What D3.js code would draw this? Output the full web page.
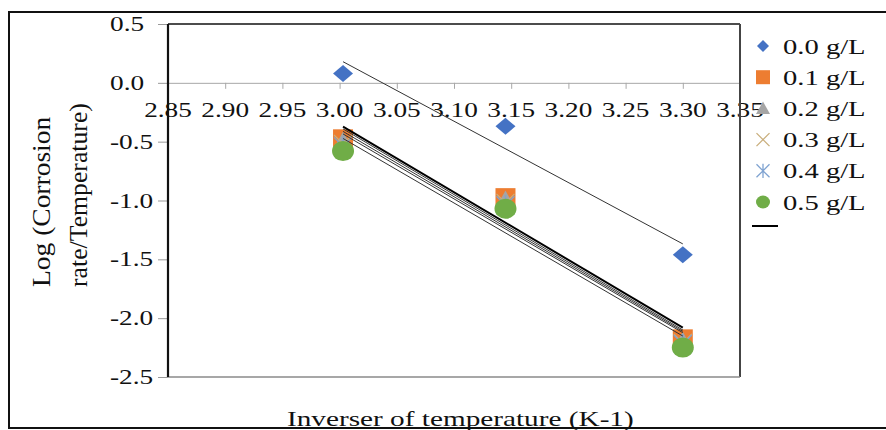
<!DOCTYPE html>
<html>
<head>
<meta charset="utf-8">
<script src="https://cdn.jsdelivr.net/npm/d3@7"></script>
<style>
  body { margin: 0; background: #fff; }
  svg { display: block; }
  text { font-family: "Liberation Serif", "Times New Roman", serif; fill: #111; }
</style>
</head>
<body>
<svg id="chart" width="886" height="430"></svg>
<script>
// Inverse temperature (1000/T, K^-1) for 333 K, 318 K and 303 K
const inverseTemp = [3.003, 3.145, 3.300];

// Log(corrosion rate / temperature) per inhibitor concentration
const seriesNames = ["0.0 g/L", "0.1 g/L", "0.2 g/L", "0.3 g/L", "0.4 g/L", "0.5 g/L"];
const logRate00 = [0.08, -0.37, -1.46];
const logRate01 = [-0.48, -0.98, -2.18];
const logRate02 = [-0.50, -1.00, -2.20];
const logRate03 = [-0.52, -1.02, -2.21];
const logRate04 = [-0.54, -1.04, -2.22];
const logRate05 = [-0.58, -1.07, -2.25];
const seriesValues = [logRate00, logRate01, logRate02, logRate03, logRate04, logRate05];

// Axis ticks
const xTicks = [2.85, 2.90, 2.95, 3.00, 3.05, 3.10, 3.15, 3.20, 3.25, 3.30, 3.35];
const yTicks = [0.5, 0.0, -0.5, -1.0, -1.5, -2.0, -2.5];

const markerShapes = ["diamond", "square", "triangle", "cross", "asterisk", "circle"];
const markerColors = ["#4472C4", "#ED7D31", "#A5A5A5", "#C9AE7C", "#7FA3D1", "#70AD47"];

const svg = d3.select("#chart");
const plot = { left: 168, right: 740, top: 24, bottom: 377 };

const x = d3.scaleLinear().domain([2.85, 3.35]).range([plot.left, plot.right]);
const y = d3.scaleLinear().domain([-2.5, 0.5]).range([plot.bottom, plot.top]);

// Number formats using a plain hyphen for negatives
const fmtX = v => d3.format(".2f")(v).replace("\u2212", "-");
const fmtY = v => d3.format(".1f")(v).replace("\u2212", "-");

// Text helper: Times-style glyphs, widened horizontally
function label(parent, px, py, str, size, anchor, sx, rot) {
  return parent.append("text")
    .attr("transform", `translate(${px},${py}) rotate(${rot || 0}) scale(${sx},1)`)
    .attr("text-anchor", anchor)
    .style("font-size", size + "px")
    .text(str);
}

// Marker path builder (half-width w, half-height h)
function markerPath(shape, w, h) {
  const p = d3.path();
  switch (shape) {
    case "diamond":
      p.moveTo(0, -h); p.lineTo(w, 0); p.lineTo(0, h); p.lineTo(-w, 0); p.closePath(); break;
    case "square":
      p.rect(-w, -h, 2 * w, 2 * h); break;
    case "triangle":
      p.moveTo(0, -h); p.lineTo(w, h * 0.8); p.lineTo(-w, h * 0.8); p.closePath(); break;
    case "cross":
      p.moveTo(-w, -h); p.lineTo(w, h); p.moveTo(-w, h); p.lineTo(w, -h); break;
    case "asterisk":
      p.moveTo(-w, -h); p.lineTo(w, h); p.moveTo(-w, h); p.lineTo(w, -h);
      p.moveTo(0, -h * 1.1); p.lineTo(0, h * 1.1); break;
  }
  return p.toString();
}
function drawMarker(parent, shape, color, cx, cy, w, h) {
  if (shape === "circle") {
    return parent.append("ellipse").attr("cx", cx).attr("cy", cy).attr("rx", w).attr("ry", h).attr("fill", color);
  }
  const line = shape === "cross" || shape === "asterisk";
  return parent.append("path")
    .attr("transform", `translate(${cx},${cy})`)
    .attr("d", markerPath(shape, w, h))
    .attr("fill", line ? "none" : color)
    .attr("stroke", line ? color : "none")
    .attr("stroke-width", line ? 1.3 : 0);
}

// Outer frame
svg.append("path")
  .attr("d", "M900,12 L9,12 L9,428 L900,428")
  .attr("fill", "none").attr("stroke", "#111").attr("stroke-width", 2);

// Y axis ticks
svg.append("g")
  .attr("transform", `translate(${plot.left},0)`)
  .call(d3.axisLeft(y).tickValues(yTicks).tickSize(10).tickFormat(""))
  .call(g => g.select(".domain").remove())
  .call(g => g.selectAll(".tick line").attr("stroke", "#999"));

// X axis through y = 0
svg.append("g")
  .attr("transform", `translate(0,${y(0)})`)
  .call(d3.axisBottom(x).tickValues(xTicks).tickSize(6).tickSizeOuter(0).tickFormat(""))
  .call(g => g.select(".domain").attr("stroke", "#a8a8a8"))
  .call(g => g.selectAll(".tick line").attr("stroke", "#a8a8a8"));

// Tick labels
const tickLabels = svg.append("g");
xTicks.forEach(t => label(tickLabels, x(t), 117, fmtX(t), 21, "middle", 1.3));
yTicks.forEach(t => label(tickLabels, 110, y(t) + 7, fmtY(t), 21, "start", 1.3));

// Plot area border
svg.append("line").attr("x1", plot.left).attr("x2", plot.right).attr("y1", plot.top).attr("y2", plot.top)
  .attr("stroke", "#111").attr("stroke-width", 1.6);
svg.append("line").attr("x1", plot.right).attr("x2", plot.right).attr("y1", plot.top).attr("y2", plot.bottom)
  .attr("stroke", "#444").attr("stroke-width", 2);
svg.append("line").attr("x1", plot.left).attr("x2", plot.right).attr("y1", plot.bottom).attr("y2", plot.bottom)
  .attr("stroke", "#8a8a8a").attr("stroke-width", 1.6);
svg.append("line").attr("x1", plot.left).attr("x2", plot.left).attr("y1", plot.top).attr("y2", plot.bottom)
  .attr("stroke", "#111").attr("stroke-width", 2.2);

// Data markers
const marks = svg.append("g");
const bigSize = { diamond: [10, 8.5], square: [10, 10], triangle: [10, 10], cross: [9, 9], asterisk: [9, 9], circle: [11, 10] };
seriesValues.forEach((vals, i) => {
  const s = bigSize[markerShapes[i]];
  vals.forEach((v, j) => drawMarker(marks, markerShapes[i], markerColors[i], x(inverseTemp[j]), y(v), s[0], s[1]));
});

// Linear trendlines (least squares over each series)
const trends = svg.append("g");
seriesValues.forEach((vals, i) => {
  const mx = d3.mean(inverseTemp), my = d3.mean(vals);
  const sxy = d3.sum(inverseTemp, (xv, j) => (xv - mx) * (vals[j] - my));
  const sxx = d3.sum(inverseTemp, xv => (xv - mx) ** 2);
  const slope = sxy / sxx, icpt = my - slope * mx;
  const [x0, x1] = d3.extent(inverseTemp);
  trends.append("line")
    .attr("x1", x(x0)).attr("y1", y(slope * x0 + icpt))
    .attr("x2", x(x1)).attr("y2", y(slope * x1 + icpt))
    .attr("stroke", i === 1 ? "#000" : "#333")
    .attr("stroke-width", i === 1 ? 2 : 1);
});

// Legend
const legend = svg.append("g");
const smallSize = { diamond: [6, 6], square: [7, 7], triangle: [7, 7], cross: [6.5, 6.5], asterisk: [6.5, 6.5], circle: [7, 6.5] };
seriesNames.forEach((name, i) => {
  const ry = 46 + i * 31.2;
  const s = smallSize[markerShapes[i]];
  drawMarker(legend, markerShapes[i], markerColors[i], 763, ry, s[0], s[1]);
  label(legend, 783, ry + 7.5, name, 22, "start", 1.3);
});
legend.append("line").attr("x1", 752).attr("x2", 778).attr("y1", 226).attr("y2", 226)
  .attr("stroke", "#000").attr("stroke-width", 2);

// Axis titles
label(svg, 287, 426, "Inverser of temperature (K-1)", 22, "start", 1.33);
label(svg, 50, 287, "Log (Corrosion", 25, "start", 1.1, -90);
label(svg, 87, 287, "rate/Temperature)", 25, "start", 1.03, -90);
</script>
</body>
</html>
